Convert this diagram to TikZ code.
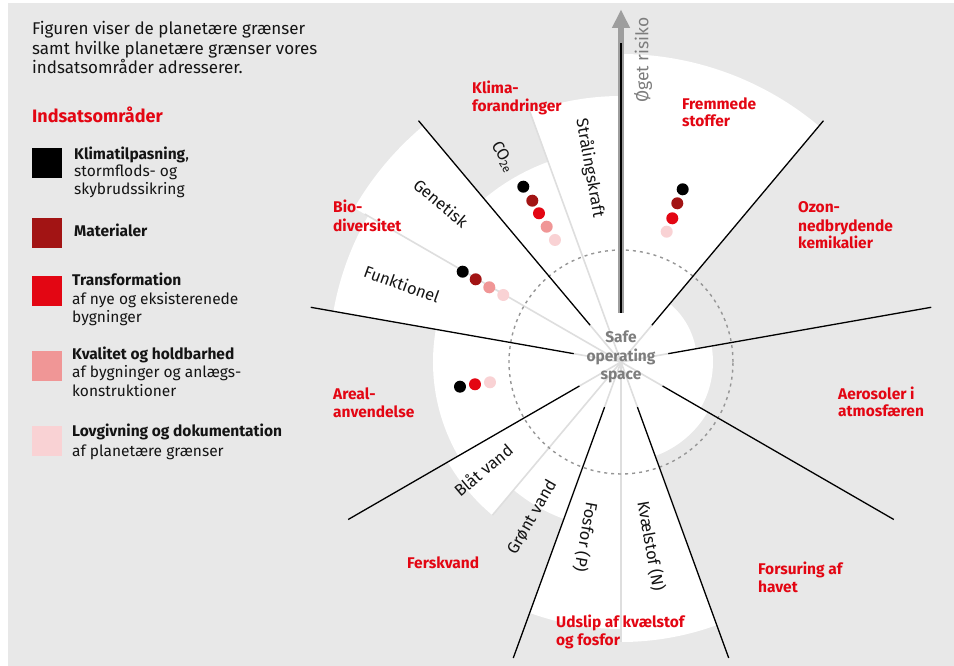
\documentclass[tikz,border=0pt]{standalone}
\usepackage{fontspec}
\setmainfont{Fira Sans}
\definecolor{bggrey}{RGB}{232,232,232}
\definecolor{cdark}{RGB}{162,20,20}
\definecolor{cred}{RGB}{227,6,19}
\definecolor{csalmon}{RGB}{240,150,150}
\definecolor{cpink}{RGB}{249,210,212}
\definecolor{redtxt}{RGB}{227,6,19}
\definecolor{spokegrey}{RGB}{222,222,222}
\definecolor{txtgrey}{RGB}{125,125,125}
\definecolor{arrowgrey}{RGB}{158,158,158}
\definecolor{dashgrey}{RGB}{150,150,150}
\definecolor{txtblack}{RGB}{20,20,20}
\begin{document}
\begin{tikzpicture}[x=1pt,y=1pt,
  divider/.style={line width=1.3pt, black},
  spokelight/.style={line width=1.6pt, spokegrey},
  redlab/.style={font=\fontsize{15.5}{18}\selectfont\bfseries, text=redtxt, inner sep=0pt, anchor=base west},
  leg/.style={font=\fontsize{15.5}{18}\selectfont, text=txtblack, inner sep=0pt, anchor=base west},
  legb/.style={font=\fontsize{15.5}{18}\selectfont\bfseries, text=txtblack, inner sep=0pt, anchor=base west},
  intro/.style={font=\fontsize{17}{20}\selectfont, text=txtblack, inner sep=0pt, anchor=base west},
  sublab/.style={font=\fontsize{16.5}{18}\selectfont, text=txtblack, inner sep=0pt},
  safe/.style={font=\fontsize{15.5}{17}\selectfont\bfseries, text=txtgrey, inner sep=0pt, anchor=base},
  dot/.style={circle, inner sep=0pt, minimum size=12pt},
  sq/.style={minimum size=30pt, inner sep=0pt, anchor=north west}
]
% canvas
\useasboundingbox (-621,-304) rectangle (333,362);
\fill[white] (-621,-304) rectangle (333,362);
\fill[bggrey] (-613,-304) rectangle (333,359);
\coordinate (c) at (0,0);

% white wedges
\foreach \a/\b/\r in {50/90/308, 90/110/266, 110/130/213, 130/150/308, 150/170/292,
                      170/210/188, 210/230/200, 230/250/167, 250/270/267, 270/290/280,
                      290/330/100, 330/370/92, 10/50/76}
  {\fill[white] (c) -- (\a:\r pt) arc[start angle=\a, end angle=\b, radius=\r pt] -- cycle;}

% light sub-division spokes
\draw[spokelight] (c) -- (110:266pt);
\draw[spokelight] (c) -- (150:296pt);
\draw[spokelight] (c) -- (230:200pt);
\draw[spokelight] (c) -- (270:280pt);

% dashed safe boundary
\draw[dashgrey, line width=1.4pt, dash pattern=on 3pt off 4pt] (c) circle (112pt);

% dividers
\foreach \a in {10,50,130,170,210,250,290,330}
  {\draw[spokelight] (c) -- (\a:48pt);
   \draw[divider] (\a:48pt) -- (\a:315pt);}

% risk arrow
\fill[arrowgrey] (-3,49) rectangle (3,335);
\fill[arrowgrey] (-9.2,334) -- (0,352) -- (9.2,334) -- cycle;
\draw[line width=2pt, black] (0,49) -- (0,319);
\node[font=\fontsize{17.5}{19}\selectfont, text=txtgrey, inner sep=0pt, rotate=90] (risk) at (22,302) {Øget risiko};

% safe operating space
\node[safe] (s1) at (0,19) {Safe};
\node[safe] (s2) at (0,0) {operating};
\node[safe] (s3) at (0,-18) {space};

% dots
\node[dot, fill=black]   (f1) at (61.7,172.7) {};
\node[dot, fill=cdark]   (f2) at (56.3,158.7) {};
\node[dot, fill=cred]    (f3) at (51.3,143.7) {};
\node[dot, fill=cpink]   (f4) at (45.7,130.3) {};

\node[dot, fill=black]   (k1) at (-97.7,175.3) {};
\node[dot, fill=cdark]   (k2) at (-88.7,161.3) {};
\node[dot, fill=cred]    (k3) at (-82,148.7) {};
\node[dot, fill=csalmon] (k4) at (-74.3,135.3) {};
\node[dot, fill=cpink]   (k5) at (-66,122) {};

\node[dot, fill=black]   (b1) at (-158.3,90.3) {};
\node[dot, fill=cdark]   (b2) at (-145.3,82.7) {};
\node[dot, fill=csalmon] (b3) at (-131.7,74.7) {};
\node[dot, fill=cpink]   (b4) at (-117.7,67) {};

\node[dot, fill=black]   (a1) at (-161,-24.7) {};
\node[dot, fill=cred]    (a2) at (-146,-22.3) {};
\node[dot, fill=cpink]   (a3) at (-131,-20.3) {};

% sub labels (rotated)
\node[sublab, rotate=-40] (gen) at (-180,159) {Genetisk};
\node[sublab, rotate=-20] (fun) at (-219,78) {Funktionel};
\node[sublab, rotate=-60] (co2) at (-118,205) {CO\textsubscript{2e}};
\node[sublab, rotate=-80] (str) at (-31,194) {Strålingskraft};
\node[sublab, rotate=40] (blaa) at (-138,-108) {Blåt vand};
\node[sublab, rotate=60] (groen) at (-89,-155) {Grønt vand};
\node[sublab, rotate=-100] (fos) at (-35,-175) {Fosfor (P)};
\node[sublab, rotate=-80] (kv) at (30,-184) {Kvælstof (N)};

% red category labels
\node[redlab] (kl1) at (-149,268) {Klima-};
\node[redlab] (kl2) at (-149,250) {forandringer};
\node[redlab] (fr1) at (61,252) {Fremmede};
\node[redlab] (fr2) at (61,235) {stoffer};
\node[redlab] (oz1) at (177,149) {Ozon-};
\node[redlab] (oz2) at (177,130) {nedbrydende};
\node[redlab] (oz3) at (177,113) {kemikalier};
\node[redlab] (bi1) at (-288,149) {Bio-};
\node[redlab] (bi2) at (-288,130) {diversitet};
\node[redlab] (ar1) at (-288,-38) {Areal-};
\node[redlab] (ar2) at (-288,-56) {anvendelse};
\node[redlab] (ae1) at (217,-38) {Aerosoler i};
\node[redlab] (ae2) at (217,-55) {atmosfæren};
\node[redlab] (fe1) at (-214,-207) {Ferskvand};
\node[redlab] (fo1) at (137,-213) {Forsuring af};
\node[redlab] (fo2) at (137,-231) {havet};
\node[redlab] (ud1) at (-65,-266) {Udslip af kvælstof};
\node[redlab] (ud2) at (-65,-284) {og fosfor};

% intro text
\node[intro] (i1) at (-589,327) {Figuren viser de planetære grænser};
\node[intro] (i2) at (-589,307) {samt hvilke planetære grænser vores};
\node[intro] (i3) at (-589,288) {indsatsområder adresserer.};
\node[font=\fontsize{18}{21}\selectfont\bfseries, text=redtxt, inner sep=0pt, anchor=base west] (hd) at (-589,239) {Indsatsområder};

% legend
\node[sq, fill=black]   (q1) at (-589,214) {};
\node[sq, fill=cdark]   (q2) at (-589,144) {};
\node[sq, fill=cred]    (q3) at (-589,86) {};
\node[sq, fill=csalmon] (q4) at (-589,11) {};
\node[sq, fill=cpink]   (q5) at (-589,-64) {};

\node[legb] (t1a) at (-547,202) {Klimatilpasning\mdseries,};
\node[leg]  (t1b) at (-547,185) {stormflods- og};
\node[leg]  (t1c) at (-547,167) {skybrudssikring};
\node[legb] (t2a) at (-547,125) {Materialer};
\node[legb] (t3a) at (-549,76) {Transformation};
\node[leg]  (t3b) at (-549,57) {af nye og eksisterenede};
\node[leg]  (t3c) at (-549,39) {bygninger};
\node[legb] (t4a) at (-549,2) {Kvalitet og holdbarhed};
\node[leg]  (t4b) at (-549,-16) {af bygninger og anlægs-};
\node[leg]  (t4c) at (-549,-35) {konstruktioner};
\node[legb] (t5a) at (-549,-75) {Lovgivning og dokumentation};
\node[leg]  (t5b) at (-549,-95) {af planetære grænser};
\end{tikzpicture}
\end{document}
